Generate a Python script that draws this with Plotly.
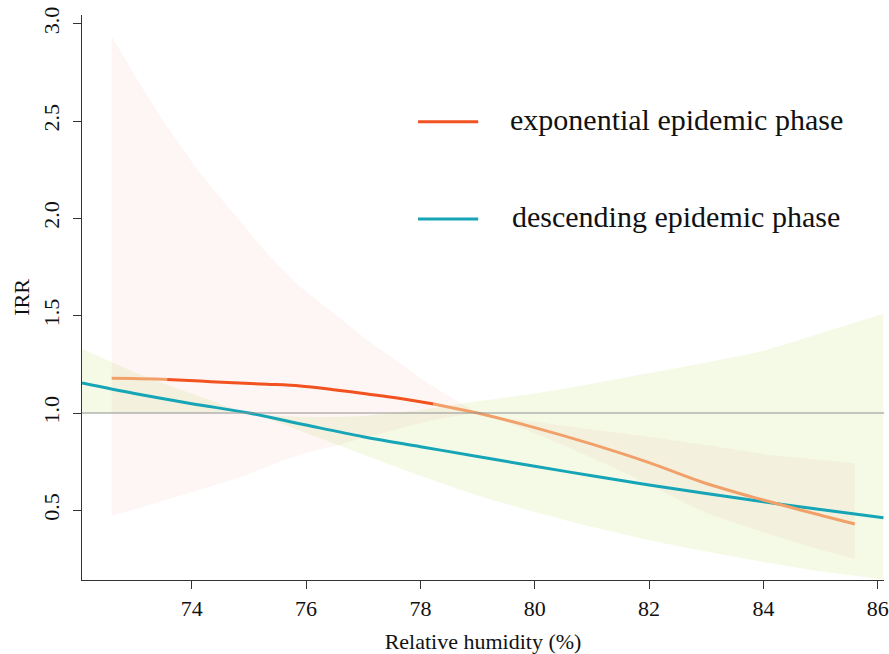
import plotly.graph_objects as go

# ---- Exponential epidemic phase (orange) ----
exp_x = [72.6, 72.98, 73.57, 74.15, 74.73, 75.32, 75.9, 76.48, 77.07, 77.65,
         78.23, 78.81, 79.0, 80.0, 81.0, 82.0, 83.0, 84.0, 85.0, 85.6]
exp_irr = [1.178, 1.177, 1.172, 1.164, 1.155, 1.148, 1.139, 1.12, 1.098, 1.075,
           1.046, 1.012, 1.0, 0.925, 0.84, 0.745, 0.638, 0.553, 0.475, 0.43]
exp_upper = [2.934, 2.746, 2.471, 2.232, 2.026, 1.82, 1.649, 1.514, 1.375, 1.255,
             1.135, 1.032, 1.0, 0.955, 0.915, 0.878, 0.835, 0.79, 0.76, 0.743]
exp_lower = [0.473, 0.504, 0.556, 0.607, 0.658, 0.724, 0.787, 0.829, 0.877, 0.921,
             0.964, 0.992, 1.0, 0.896, 0.77, 0.632, 0.487, 0.387, 0.297, 0.249]

# ---- Descending epidemic phase (teal) ----
desc_x = [72.08, 73, 74, 75, 76, 77, 78, 79, 80, 81, 82, 83, 84, 85, 86.1]
desc_irr = [1.154, 1.10, 1.048, 1.0, 0.938, 0.878, 0.827, 0.777, 0.726, 0.678,
            0.63, 0.586, 0.544, 0.504, 0.462]
desc_upper = [1.33, 1.21, 1.10, 1.0, 0.98, 0.985, 1.015, 1.06, 1.10, 1.15,
              1.205, 1.26, 1.32, 1.41, 1.51]
desc_lower = [1.001, 0.999, 0.999, 1.0, 0.897, 0.787, 0.677, 0.576, 0.492, 0.415,
              0.346, 0.288, 0.235, 0.187, 0.145]

x_ticks = [74, 76, 78, 80, 82, 84, 86]
y_ticks = [0.5, 1.0, 1.5, 2.0, 2.5, 3.0]
y_ticklabels = ["0.5", "1.0", "1.5", "2.0", "2.5", "3.0"]
legend_labels = ["exponential epidemic phase", "descending epidemic phase"]

ORANGE_DARK = "#F2521F"
ORANGE_LIGHT = "#F2A06A"
TEAL = "#15A5B6"
FONT = "Liberation Serif, Times New Roman, serif"

fig = go.Figure()


def add_band(x, lo, hi, color):
    fig.add_trace(go.Scatter(x=x, y=lo, mode="lines",
                             line=dict(width=0, shape="spline", smoothing=0.6),
                             hoverinfo="skip", showlegend=False))
    fig.add_trace(go.Scatter(x=x, y=hi, mode="lines", fill="tonexty",
                             fillcolor=color,
                             line=dict(width=0, shape="spline", smoothing=0.6),
                             hoverinfo="skip", showlegend=False))


# confidence bands
add_band(desc_x, desc_lower, desc_upper, "rgba(190,222,100,0.16)")
add_band(exp_x, exp_lower, exp_upper, "rgba(230,150,125,0.085)")

# reference line at IRR = 1
fig.add_hline(y=1.0, line=dict(color="#8f8f8f", width=1.2), layer="above")

# lines
fig.add_trace(go.Scatter(x=desc_x, y=desc_irr, mode="lines",
                         line=dict(color=TEAL, width=3, shape="spline"),
                         showlegend=False))
segments = [(0, 3, ORANGE_LIGHT), (2, 11, ORANGE_DARK), (10, len(exp_x), ORANGE_LIGHT)]
for a, b, c in segments:
    fig.add_trace(go.Scatter(x=exp_x[a:b], y=exp_irr[a:b], mode="lines",
                             line=dict(color=c, width=3, shape="spline"),
                             showlegend=False))

# legend (drawn manually to match the original layout)
for i, (lab, col) in enumerate(zip(legend_labels, [ORANGE_DARK, TEAL])):
    yy = [0.811, 0.639][i]
    fig.add_shape(type="line", xref="paper", yref="paper",
                  x0=0.419, x1=0.494, y0=yy, y1=yy,
                  line=dict(color=col, width=3))
    fig.add_annotation(xref="paper", yref="paper", x=[0.531, 0.534][i], y=yy + 0.004,
                       text=lab, showarrow=False, xanchor="left", yanchor="middle",
                       font=dict(family=FONT, size=30, color="#111111"))

axis_common = dict(showline=True, linecolor="#333333", linewidth=1.2,
                   ticks="outside", ticklen=8, tickcolor="#333333", tickwidth=1.2,
                   showgrid=False, zeroline=False, automargin=False,
                   ticklabeloverflow="allow",
                   tickfont=dict(family=FONT, size=22, color="#111111"))

fig.update_xaxes(range=[72.08, 86.11], tickvals=x_ticks,
                 ticklabelstandoff=0,
                 title=dict(text="Relative humidity (%)",
                            font=dict(family=FONT, size=22, color="#111111"),
                            standoff=14),
                 **axis_common)
fig.update_yaxes(range=[0.142, 3.045], tickvals=y_ticks, ticktext=y_ticklabels,
                 tickangle=-90, ticklabelstandoff=5,
                 title=dict(text="IRR", font=dict(family=FONT, size=22, color="#111111"),
                            standoff=3),
                 **axis_common)

fig.update_layout(width=889, height=654,
                  margin=dict(l=82, r=5, t=15, b=74, autoexpand=False),
                  plot_bgcolor="white", paper_bgcolor="white",
                  showlegend=False)

# remove the default page margin so the figure fills the window exactly
fig.write_html("out.html",
               config={"displayModeBar": False},
               post_script="document.body.style.margin='0';document.body.style.overflow='hidden';")
